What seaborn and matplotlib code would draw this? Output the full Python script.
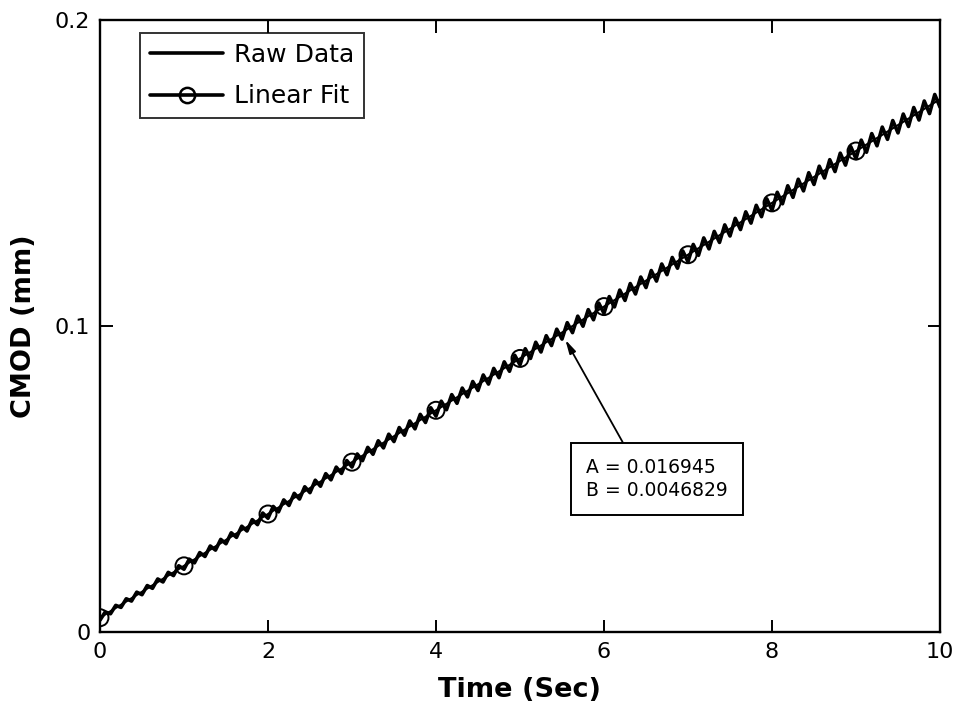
import numpy as np
import pandas as pd
import matplotlib
matplotlib.use("Agg")
import matplotlib.pyplot as plt
import seaborn as sns

# Linear fit parameters (from annotation)
fit_A = 0.016945
fit_B = 0.0046829
fit_t = [0, 1, 2, 3, 4, 5, 6, 7, 8, 9, 10]
marker_t = [0, 1, 2, 3, 4, 5, 6, 7, 8, 9]

# Raw data: zigzag around the fit, ~8 cycles per second, amplitude read per second
zig_amp_t = [0, 1, 2, 3, 4, 5, 6, 7, 8, 9, 10]
zig_amp = [0.0008, 0.0011, 0.0014, 0.0016, 0.0019, 0.0021, 0.0022, 0.0023, 0.0024, 0.0025, 0.0026]
half_period = 1 / 16

x_ticks = [0, 2, 4, 6, 8, 10]
y_ticks = [0, 0.1, 0.2]
y_tick_labels = ["0", "0.1", "0.2"]

sns.set_theme(style="ticks")
plt.rcParams['font.family'] = ['DejaVu Sans']

fig = plt.figure(figsize=(9.55, 7.05), dpi=100)
ax = fig.add_axes([0.1047, 0.1035, 0.8796, 0.8681])

raw_t = np.arange(0, 10 + 1e-9, half_period)
sign = np.where(np.arange(len(raw_t)) % 2 == 0, -1.0, 1.0)
raw_y = fit_A * raw_t + fit_B + sign * np.interp(raw_t, zig_amp_t, zig_amp)
raw_df = pd.DataFrame({"t": raw_t, "y": raw_y})

fit_df = pd.DataFrame({"t": fit_t, "y": [fit_A * t + fit_B for t in fit_t]})
mk_df = pd.DataFrame({"t": marker_t, "y": [fit_A * t + fit_B for t in marker_t]})

sns.lineplot(data=raw_df, x="t", y="y", ax=ax, color="black", lw=2.6, label="Raw Data")
sns.lineplot(data=fit_df, x="t", y="y", ax=ax, color="black", lw=1.5, legend=False)
sns.scatterplot(data=mk_df, x="t", y="y", ax=ax, marker="o", s=150,
                facecolor="none", edgecolor="black", linewidth=1.4, legend=False, zorder=5)

# legend handle for Linear Fit
ax.plot([], [], color="black", lw=2.6, marker="o", ms=11, mfc="none", mew=1.8, label="Linear Fit")

ax.set_xlim(0, 10)
ax.set_ylim(0, 0.2)
ax.set_xticks(x_ticks)
ax.set_yticks(y_ticks)
ax.set_yticklabels(y_tick_labels)
ax.tick_params(direction="in", top=True, right=True, length=9, width=1.4, labelsize=16,
               pad=7, colors="black")
for s in ax.spines.values():
    s.set_linewidth(1.7)
    s.set_color("black")

ax.set_xlabel("Time (Sec)", fontsize=19.5, fontweight="bold", labelpad=11, color="black")
ax.set_ylabel("CMOD (mm)", fontsize=19.5, fontweight="bold", labelpad=13, color="black")

leg = ax.legend(loc="upper left", bbox_to_anchor=(0.048, 0.979), fontsize=18, frameon=True,
                fancybox=False, edgecolor="black", handlelength=2.9, borderpad=0.4,
                labelspacing=0.7, handletextpad=0.45, borderaxespad=0)
leg.get_frame().set_linewidth(1.4)
for t in leg.get_texts():
    t.set_color("black")

ax.annotate("A = 0.016945\nB = 0.0046829", xy=(5.54, 0.0955), xytext=(6.63, 0.0500),
            fontsize=13.5, ha="center", va="center", multialignment="left", linespacing=1.3,
            color="black",
            bbox=dict(boxstyle="square,pad=0.8", fc="white", ec="black", lw=1.4),
            arrowprops=dict(arrowstyle="-|>,head_length=0.6,head_width=0.15", color="black",
                            lw=1.3, shrinkA=0, shrinkB=0, relpos=(0.32, 1.0)))

fig.savefig("out.png", dpi=100)
